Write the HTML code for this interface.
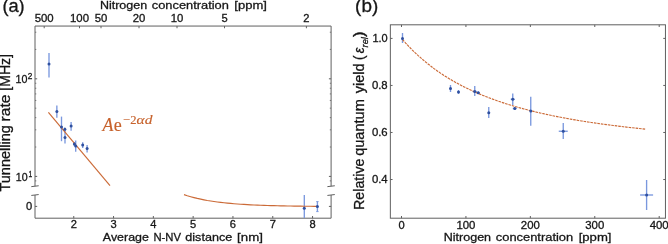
<!DOCTYPE html><html><head><meta charset="utf-8"><title>Figure</title><style>html,body{margin:0;padding:0;background:#fff}svg{display:block;will-change:transform}text{font-family:"Liberation Sans",sans-serif;fill:#161616;stroke:#161616;stroke-width:0.3px}.m{font-family:"Liberation Serif",serif}</style></head><body>
<svg width="668" height="244" viewBox="0 0 668 244">
<rect width="668" height="244" fill="#fff"/>
<g stroke="#606060" stroke-width="1.0" fill="none">
<path d="M35.0 186.2V26.05H331.1V186.2"/>
<path d="M35.0 195.0V218.2H331.1V195.0"/>
<path d="M31.3 186.64999999999998L38.7 185.75"/>
<path d="M31.3 195.45L38.7 194.55"/>
<path d="M327.40000000000003 186.64999999999998L334.8 185.75"/>
<path d="M327.40000000000003 195.45L334.8 194.55"/>
<path d="M73.75 218.2v-2.2"/>
<path d="M113.55 218.2v-2.2"/>
<path d="M153.35 218.2v-2.2"/>
<path d="M193.15 218.2v-2.2"/>
<path d="M232.95 218.2v-2.2"/>
<path d="M272.75 218.2v-2.2"/>
<path d="M312.55 218.2v-2.2"/>
<path d="M44.2 26.05v2.2"/>
<path d="M79.5 26.05v2.2"/>
<path d="M101 26.05v2.2"/>
<path d="M139 26.05v2.2"/>
<path d="M177 26.05v2.2"/>
<path d="M224.5 26.05v2.2"/>
<path d="M306.4 26.05v2.2"/>
<path d="M35.0 176.40h2.2M331.1 176.40h-2.2"/>
<path d="M35.0 78.80h2.2M331.1 78.80h-2.2"/>
<path d="M35.0 180.87h1.3M331.1 180.87h-1.3" stroke-opacity="0.8"/>
<path d="M35.0 147.02h1.3M331.1 147.02h-1.3" stroke-opacity="0.8"/>
<path d="M35.0 129.83h1.3M331.1 129.83h-1.3" stroke-opacity="0.8"/>
<path d="M35.0 117.64h1.3M331.1 117.64h-1.3" stroke-opacity="0.8"/>
<path d="M35.0 108.18h1.3M331.1 108.18h-1.3" stroke-opacity="0.8"/>
<path d="M35.0 100.45h1.3M331.1 100.45h-1.3" stroke-opacity="0.8"/>
<path d="M35.0 93.92h1.3M331.1 93.92h-1.3" stroke-opacity="0.8"/>
<path d="M35.0 88.26h1.3M331.1 88.26h-1.3" stroke-opacity="0.8"/>
<path d="M35.0 83.27h1.3M331.1 83.27h-1.3" stroke-opacity="0.8"/>
<path d="M35.0 49.42h1.3M331.1 49.42h-1.3" stroke-opacity="0.8"/>
<path d="M35.0 32.23h1.3M331.1 32.23h-1.3" stroke-opacity="0.8"/>
<path d="M35.0 206.4h2.2M331.1 206.4h-2.2"/>
</g>
<text x="70.65" y="228.1" font-size="10.8px" textLength="6.20" lengthAdjust="spacingAndGlyphs">2</text>
<text x="110.45" y="228.1" font-size="10.8px" textLength="6.20" lengthAdjust="spacingAndGlyphs">3</text>
<text x="150.25" y="228.1" font-size="10.8px" textLength="6.20" lengthAdjust="spacingAndGlyphs">4</text>
<text x="190.05" y="228.1" font-size="10.8px" textLength="6.20" lengthAdjust="spacingAndGlyphs">5</text>
<text x="229.85" y="228.1" font-size="10.8px" textLength="6.20" lengthAdjust="spacingAndGlyphs">6</text>
<text x="269.65" y="228.1" font-size="10.8px" textLength="6.20" lengthAdjust="spacingAndGlyphs">7</text>
<text x="309.45" y="228.1" font-size="10.8px" textLength="6.20" lengthAdjust="spacingAndGlyphs">8</text>
<text x="34.70" y="21.8" font-size="10.8px" textLength="19.01" lengthAdjust="spacingAndGlyphs">500</text>
<text x="70.00" y="21.8" font-size="10.8px" textLength="19.01" lengthAdjust="spacingAndGlyphs">100</text>
<text x="94.70" y="21.8" font-size="10.8px" textLength="12.60" lengthAdjust="spacingAndGlyphs">50</text>
<text x="132.70" y="21.8" font-size="10.8px" textLength="12.60" lengthAdjust="spacingAndGlyphs">20</text>
<text x="170.70" y="21.8" font-size="10.8px" textLength="12.60" lengthAdjust="spacingAndGlyphs">10</text>
<text x="221.40" y="21.8" font-size="10.8px" textLength="6.20" lengthAdjust="spacingAndGlyphs">5</text>
<text x="303.30" y="21.8" font-size="10.8px" textLength="6.20" lengthAdjust="spacingAndGlyphs">2</text>
<text x="15.60" y="82.8" font-size="10.8px" textLength="11.90" lengthAdjust="spacingAndGlyphs">10</text>
<text x="27.70" y="79.3" font-size="8.3px" textLength="4.60" lengthAdjust="spacingAndGlyphs">2</text>
<text x="15.80" y="180.8" font-size="10.8px" textLength="11.80" lengthAdjust="spacingAndGlyphs">10</text>
<text x="28.40" y="177.2" font-size="8.3px" textLength="3.70" lengthAdjust="spacingAndGlyphs">1</text>
<text x="26.10" y="210.0" font-size="10.8px" textLength="6.20" lengthAdjust="spacingAndGlyphs">0</text>
<text x="102.85" y="241.2" font-size="11.7px" textLength="45.99" lengthAdjust="spacingAndGlyphs">Average</text>
<text x="153.40" y="241.2" font-size="11.7px" textLength="27.60" lengthAdjust="spacingAndGlyphs">N-NV</text>
<text x="185.30" y="241.2" font-size="11.7px" textLength="46.90" lengthAdjust="spacingAndGlyphs">distance</text>
<text x="237.10" y="241.2" font-size="11.7px" textLength="25.80" lengthAdjust="spacingAndGlyphs">[nm]</text>
<text x="99.90" y="9.3" font-size="11.7px" textLength="47.20" lengthAdjust="spacingAndGlyphs">Nitrogen</text>
<text x="151.80" y="9.3" font-size="11.7px" textLength="77.10" lengthAdjust="spacingAndGlyphs">concentration</text>
<text x="234.30" y="9.3" font-size="11.7px" textLength="32.60" lengthAdjust="spacingAndGlyphs">[ppm]</text>
<text transform="translate(10.4,191.55) rotate(-90)" font-size="13.8px" textLength="66.45" lengthAdjust="spacingAndGlyphs">Tunnelling</text>
<text transform="translate(10.4,121.40) rotate(-90)" font-size="13.8px" textLength="26.80" lengthAdjust="spacingAndGlyphs">rate</text>
<text transform="translate(10.4,90.70) rotate(-90)" font-size="13.8px" textLength="36.70" lengthAdjust="spacingAndGlyphs">[MHz]</text>
<text x="2.40" y="12.4" font-size="18px" textLength="22.30" lengthAdjust="spacingAndGlyphs">(a)</text>
<g stroke="#7a98de" stroke-width="1.35">
<path d="M49 53V77.6"/>
<path d="M56.85 105.5V117.8"/>
<path d="M61.5 116.6V141.2"/>
<path d="M64.85 127.5V131.2"/>
<path d="M65 129.5V143.4"/>
<path d="M71.1 122.1V130.8"/>
<path d="M74.4 142V146.2"/>
<path d="M75.7 140.6V151.7"/>
<path d="M82.7 142.2V148"/>
<path d="M87.1 144.9V152.5"/>
<path d="M304.3 194.9V218"/>
<path d="M317.4 201.4V211.8"/>
<path d="M316.2 201.6h2.4M316.2 211.6h2.4" stroke-width="0.9"/>
</g>
<g stroke="#cb6a37" stroke-width="1.15" fill="none">
<path d="M48.4 112.3L110 185.7"/>
<path d="M184.0 194.65L187.3 195.73L190.7 196.72L194.0 197.61L197.3 198.43L200.7 199.17L204.0 199.84L207.3 200.46L210.7 201.01L214.0 201.52L217.3 201.98L220.7 202.40L224.0 202.78L227.4 203.13L230.7 203.44L234.0 203.73L237.4 203.99L240.7 204.23L244.0 204.44L247.4 204.64L250.7 204.82L254.0 204.98L257.4 205.12L260.7 205.26L264.0 205.38L267.4 205.49L270.7 205.59L274.0 205.68L277.4 205.77L280.7 205.84L284.0 205.91L287.4 205.97L290.7 206.03L294.1 206.08L297.4 206.13L300.7 206.17L304.1 206.21L307.4 206.25L310.7 206.28L314.1 206.31L317.4 206.33"/>
</g>
<text x="102.49" y="130.7" font-size="18.5px" textLength="10.94" lengthAdjust="spacingAndGlyphs" class="m" style="fill:#c7622c;stroke:#c7622c;stroke-width:0.15px" font-style="italic">A</text>
<text x="113.70" y="130.7" font-size="18.5px" textLength="8.00" lengthAdjust="spacingAndGlyphs" class="m" style="fill:#c7622c;stroke:#c7622c;stroke-width:0.15px">e</text>
<text x="123.10" y="124.2" font-size="13.2px" textLength="13.40" lengthAdjust="spacingAndGlyphs" class="m" style="fill:#c7622c;stroke:#c7622c;stroke-width:0.15px">−2</text>
<text x="136.60" y="124.2" font-size="13.2px" textLength="15.85" lengthAdjust="spacingAndGlyphs" class="m" style="fill:#c7622c;stroke:#c7622c;stroke-width:0.15px" font-style="italic">αd</text>
<g fill="#2f509f">
<circle cx="49" cy="64" r="1.5"/>
<circle cx="56.85" cy="111.4" r="1.5"/>
<circle cx="61.5" cy="127.1" r="1.5"/>
<circle cx="64.85" cy="129.3" r="1.5"/>
<circle cx="65" cy="137.5" r="1.5"/>
<circle cx="71.1" cy="126.1" r="1.5"/>
<circle cx="74.4" cy="144" r="1.5"/>
<circle cx="75.7" cy="145.9" r="1.5"/>
<circle cx="82.7" cy="144.9" r="1.5"/>
<circle cx="87.1" cy="148.6" r="1.5"/>
<circle cx="304.3" cy="208.2" r="1.5"/>
<circle cx="317.4" cy="206.6" r="1.5"/>
</g>
<g stroke="#606060" stroke-width="1.0" fill="none">
<rect x="390.35" y="24.8" width="275.10" height="193.40"/>
<path d="M401.50 218.2v-2.2M401.50 24.8v2.2"/>
<path d="M465.93 218.2v-2.2M465.93 24.8v2.2"/>
<path d="M530.35 218.2v-2.2M530.35 24.8v2.2"/>
<path d="M594.77 218.2v-2.2M594.77 24.8v2.2"/>
<path d="M659.20 218.2v-2.2M659.20 24.8v2.2"/>
<path d="M390.35 38.40h2.2M665.45 38.40h-2.2"/>
<path d="M390.35 85.44h2.2M665.45 85.44h-2.2"/>
<path d="M390.35 132.48h2.2M665.45 132.48h-2.2"/>
<path d="M390.35 179.52h2.2M665.45 179.52h-2.2"/>
</g>
<text x="398.40" y="228.6" font-size="10.8px" textLength="6.20" lengthAdjust="spacingAndGlyphs">0</text>
<text x="456.43" y="228.6" font-size="10.8px" textLength="19.01" lengthAdjust="spacingAndGlyphs">100</text>
<text x="520.85" y="228.6" font-size="10.8px" textLength="19.01" lengthAdjust="spacingAndGlyphs">200</text>
<text x="585.27" y="228.6" font-size="10.8px" textLength="19.01" lengthAdjust="spacingAndGlyphs">300</text>
<text x="649.70" y="228.6" font-size="10.8px" textLength="19.01" lengthAdjust="spacingAndGlyphs">400</text>
<text x="372.40" y="42.15" font-size="10.8px" textLength="15.30" lengthAdjust="spacingAndGlyphs">1.0</text>
<text x="371.90" y="89.19" font-size="10.8px" textLength="15.80" lengthAdjust="spacingAndGlyphs">0.8</text>
<text x="371.90" y="136.23" font-size="10.8px" textLength="15.80" lengthAdjust="spacingAndGlyphs">0.6</text>
<text x="371.90" y="183.27" font-size="10.8px" textLength="15.80" lengthAdjust="spacingAndGlyphs">0.4</text>
<text x="443.70" y="240.9" font-size="11.7px" textLength="47.40" lengthAdjust="spacingAndGlyphs">Nitrogen</text>
<text x="495.80" y="240.9" font-size="11.7px" textLength="77.40" lengthAdjust="spacingAndGlyphs">concentration</text>
<text x="578.70" y="240.9" font-size="11.7px" textLength="32.80" lengthAdjust="spacingAndGlyphs">[ppm]</text>
<text transform="translate(364.3,209.90) rotate(-90)" font-size="13.8px" textLength="51.40" lengthAdjust="spacingAndGlyphs">Relative</text>
<text transform="translate(364.3,155.80) rotate(-90)" font-size="13.8px" textLength="56.59" lengthAdjust="spacingAndGlyphs">quantum</text>
<text transform="translate(364.3,93.30) rotate(-90)" font-size="13.8px" textLength="29.80" lengthAdjust="spacingAndGlyphs">yield</text>
<text transform="translate(363.5,60.10) rotate(-90)" font-size="13.8px" textLength="4.50" lengthAdjust="spacingAndGlyphs">(</text>
<text transform="translate(364.3,53.30) rotate(-90)" font-size="13.8px" textLength="5.69" lengthAdjust="spacingAndGlyphs" font-style="italic">ε</text>
<text transform="translate(367.6,47.40) rotate(-90)" font-size="9.6px" textLength="10.19" lengthAdjust="spacingAndGlyphs" font-style="italic">rel</text>
<text transform="translate(363.5,37.00) rotate(-90)" font-size="13.8px" textLength="5.50" lengthAdjust="spacingAndGlyphs">)</text>
<text x="355.10" y="12.4" font-size="18px" textLength="23.10" lengthAdjust="spacingAndGlyphs">(b)</text>
<g stroke="#7a98de" stroke-width="1.35">
<path d="M402.5 33V43"/>
<path d="M450.5 85V92"/>
<path d="M458.5 90V94"/>
<path d="M474.75 86V96"/>
<path d="M472.75 91.5H476.75"/>
<path d="M478.25 91.5V94"/>
<path d="M476.75 92.75H479.75"/>
<path d="M488.75 107V118"/>
<path d="M512.75 93.5V105"/>
<path d="M510.75 99.25H514.75"/>
<path d="M514.75 107V110"/>
<path d="M512.75 108.5H516.75"/>
<path d="M530.75 96.75V125.75"/>
<path d="M563.25 123V139"/>
<path d="M558.75 131.25H567.75"/>
<path d="M646.6 180V210"/>
<path d="M640.1 195H653.1"/>
</g>
<path stroke="#cb6a37" stroke-width="1.15" fill="none" stroke-dasharray="2.6 0.9" d="M402.5 39.52L405.7 43.11L408.9 46.53L412.1 49.79L415.3 52.90L418.5 55.87L421.7 58.71L424.9 61.42L428.1 64.02L431.3 66.50L434.4 68.88L437.6 71.16L440.8 73.35L444.0 75.45L447.2 77.46L450.4 79.40L453.6 81.26L456.8 83.05L460.0 84.77L463.2 86.43L466.4 88.03L469.6 89.56L472.8 91.05L476.0 92.47L479.2 93.85L482.4 95.18L485.6 96.47L488.8 97.71L492.0 98.91L495.2 100.07L498.4 101.19L501.6 102.28L504.8 103.33L508.0 104.34L511.2 105.33L514.4 106.28L517.6 107.20L520.8 108.10L524.0 108.97L527.2 109.81L530.4 110.63L533.6 111.42L536.8 112.19L540.0 112.94L543.2 113.67L546.4 114.37L549.6 115.06L552.8 115.73L556.0 116.37L559.2 117.00L562.4 117.62L565.6 118.22L568.8 118.80L572.0 119.36L575.2 119.92L578.4 120.45L581.6 120.98L584.8 121.49L588.0 121.98L591.2 122.47L594.4 122.94L597.6 123.40L600.8 123.85L604.0 124.29L607.2 124.72L610.4 125.14L613.6 125.55L616.8 125.94L620.0 126.33L623.2 126.71L626.4 127.09L629.6 127.45L632.7 127.80L635.9 128.15L639.1 128.49L642.3 128.82L645.5 129.15"/>
<g fill="#2f509f">
<circle cx="402.5" cy="38.5" r="1.5"/>
<circle cx="450.5" cy="88.5" r="1.5"/>
<circle cx="458.5" cy="92" r="1.5"/>
<circle cx="474.75" cy="91.5" r="1.5"/>
<circle cx="478.25" cy="92.75" r="1.5"/>
<circle cx="488.75" cy="112.75" r="1.5"/>
<circle cx="512.75" cy="99.25" r="1.5"/>
<circle cx="514.75" cy="108.5" r="1.5"/>
<circle cx="530.75" cy="111" r="1.5"/>
<circle cx="563.25" cy="131.25" r="1.5"/>
<circle cx="646.6" cy="195" r="1.5"/>
</g>
</svg></body></html>
